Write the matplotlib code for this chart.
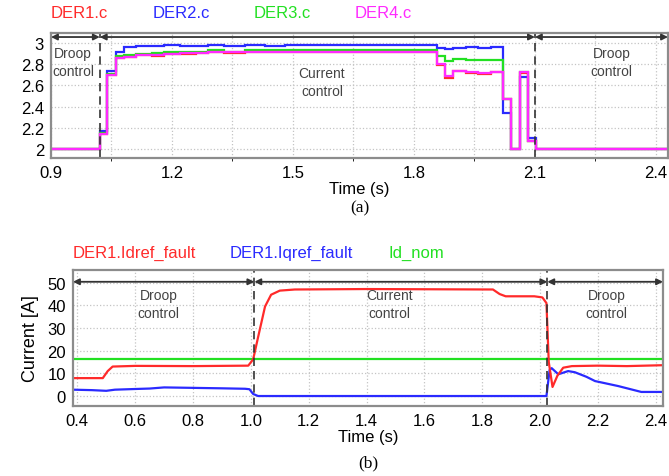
import matplotlib
matplotlib.use("Agg")
import matplotlib.pyplot as plt
from matplotlib.ticker import MultipleLocator, FormatStrFormatter

plt.rcParams['font.family'] = ['Liberation Sans', 'DejaVu Sans']

# (a) step outputs of the four DERs
t_edges_a = [0.90, 1.021, 1.040, 1.061, 1.080, 1.112, 1.15, 1.18, 1.22, 1.26, 1.29,
             1.33, 1.38, 1.43, 1.48, 1.56, 1.66, 1.76, 1.857, 1.877, 1.897, 1.93,
             1.96, 1.99, 2.021, 2.041, 2.063, 2.083, 2.103, 2.43]
der1_c = [2.00, 2.14, 2.70, 2.86, 2.87, 2.89, 2.88, 2.90, 2.90, 2.91, 2.92, 2.91,
          2.92, 2.92, 2.92, 2.92, 2.92, 2.92, 2.79, 2.67, 2.74, 2.72, 2.71, 2.73,
          2.47, 2.00, 2.72, 2.08, 2.00]
der2_c = [2.00, 2.17, 2.74, 2.92, 2.96, 2.97, 2.97, 2.98, 2.97, 2.97, 2.98, 2.97,
          2.98, 2.97, 2.98, 2.98, 2.98, 2.98, 2.95, 2.94, 2.95, 2.96, 2.95, 2.96,
          2.34, 2.00, 2.68, 2.10, 2.00]
der3_c = [2.00, 2.15, 2.71, 2.88, 2.89, 2.90, 2.91, 2.92, 2.92, 2.92, 2.93, 2.92,
          2.93, 2.93, 2.93, 2.93, 2.93, 2.93, 2.88, 2.83, 2.85, 2.84, 2.84, 2.84,
          2.47, 2.00, 2.73, 2.08, 2.00]
der4_c = [2.00, 2.14, 2.70, 2.86, 2.87, 2.89, 2.89, 2.90, 2.91, 2.91, 2.92, 2.92,
          2.92, 2.92, 2.92, 2.92, 2.92, 2.92, 2.80, 2.69, 2.74, 2.73, 2.72, 2.73,
          2.47, 2.00, 2.73, 2.08, 2.00]
switch_a = [1.021, 2.100]

# (b) DER1 current references
t_id = [0.385, 0.488, 0.505, 0.522, 0.60, 0.80, 0.991, 1.008, 1.025, 1.049, 1.07,
        1.10, 1.152, 1.40, 1.837, 1.86, 1.881, 1.98, 2.008, 2.022, 2.03, 2.043,
        2.06, 2.08, 2.11, 2.20, 2.30, 2.425]
id_ref = [7.9, 7.9, 11.0, 13.0, 13.3, 13.2, 13.4, 16.2, 26.0, 39.5, 44.7,
          46.5, 47.0, 47.2, 47.0, 45.0, 44.0, 44.0, 43.5, 41.0, 15.0, 4.0,
          9.0, 12.5, 13.2, 13.4, 13.2, 13.6]
t_iq = [0.385, 0.45, 0.50, 0.53, 0.60, 0.65, 0.70, 0.80, 0.90, 0.98, 0.995, 1.008,
        1.025, 1.50, 2.022, 2.033, 2.04, 2.063, 2.097, 2.12, 2.16, 2.19, 2.27,
        2.35, 2.425]
iq_ref = [2.8, 2.6, 2.3, 2.8, 3.1, 3.3, 3.8, 3.6, 3.4, 3.2, 3.0, 0.9,
          0.0, 0.0, 0.0, 11.5, 12.3, 9.6, 11.0, 10.5, 8.5, 6.6, 4.4,
          1.8, 1.8]
id_nom = 16.2
switch_b = [1.012, 2.025]

red, blue, green, mag = '#ff2a2a', '#2a2aff', '#22e022', '#ff2aff'
grey = '#333333'

fig = plt.figure(figsize=(6.69, 4.77), dpi=100)
ax1 = fig.add_axes([51/669, 1-159/477, 617/669, 125/477])
ax2 = fig.add_axes([73/669, 1-407/477, 590/669, 136/477])


def style(ax):
    for s in ax.spines.values():
        s.set_color('#8c8c8c')
        s.set_linewidth(1.6)
    ax.tick_params(length=0, labelsize=12, pad=5)
    ax.grid(True, which='both', color='#c4c4c4', ls=':', lw=0.9)
    ax.set_axisbelow(True)


def arrows(ax, xs, y):
    for a, b in zip(xs[:-1], xs[1:]):
        ax.annotate('', xy=(b, y), xytext=(a, y),
                    arrowprops=dict(arrowstyle='<|-|>', color=grey, lw=1.3,
                                    shrinkA=0, shrinkB=0, mutation_scale=9))


def label(ax, x, y, s):
    ax.text(x, y, s, ha='center', va='center', fontsize=10,
            color='#444444', linespacing=1.4)


# ---- (a)
style(ax1)
ax1.stairs(der2_c, t_edges_a, baseline=None, color=blue, lw=1.6)
ax1.stairs(der3_c, t_edges_a, baseline=None, color=green, lw=1.6)
ax1.stairs(der1_c, t_edges_a, baseline=None, color=red, lw=1.6)
ax1.stairs(der4_c, t_edges_a, baseline=None, color=mag, lw=1.6)
for t in switch_a:
    ax1.axvline(t, color=grey, ls=(0, (5, 3)), lw=1.2)
ax1.set_xlim(0.9, 2.43)
ax1.set_ylim(1.915, 3.095)
ax1.xaxis.set_minor_locator(MultipleLocator(0.15))
ax1.yaxis.set_major_locator(MultipleLocator(0.2))
ax1.yaxis.set_major_formatter(FormatStrFormatter('%g'))
ax1.set_xticks([0.9, 1.2, 1.5, 1.8, 2.1, 2.4])
ax1.set_xticklabels(['0.9', '1.2', '1.5', '1.8', '2.1', '2.4'])
arrows(ax1, [0.9, switch_a[0], switch_a[1], 2.43], 3.057)
label(ax1, 0.955, 2.82, 'Droop\ncontrol')
label(ax1, 1.572, 2.63, 'Current\ncontrol')
label(ax1, 2.29, 2.82, 'Droop\ncontrol')
ax1.set_xlabel('Time (s)', fontsize=12, labelpad=1)
for name, c, x in [('DER1.c', red, 51), ('DER2.c', blue, 153),
                   ('DER3.c', green, 254), ('DER4.c', mag, 355)]:
    fig.text(x/669, 1-14/477, name, color=c, fontsize=12, va='center')
fig.text(0.5*(51+668)/669, 1-208/477, '(a)', ha='center', va='center',
         fontsize=12.5, family='Liberation Serif')

# ---- (b)
style(ax2)
ax2.axhline(id_nom, color=green, lw=1.6)
ax2.plot(t_iq, iq_ref, color=blue, lw=1.6)
ax2.plot(t_id, id_ref, color=red, lw=1.6)
for t in switch_b:
    ax2.axvline(t, color=grey, ls=(0, (5, 3)), lw=1.2)
ax2.set_xlim(0.385, 2.425)
ax2.set_ylim(-4.4, 55.6)
ax2.set_xticks([0.4, 0.6, 0.8, 1.0, 1.2, 1.4, 1.6, 1.8, 2.0, 2.2, 2.4])
ax2.xaxis.set_major_formatter(FormatStrFormatter('%.1f'))
ax2.yaxis.set_major_locator(MultipleLocator(10))
arrows(ax2, [0.385, switch_b[0], switch_b[1], 2.425], 50.4)
label(ax2, 0.68, 40.5, 'Droop\ncontrol')
label(ax2, 1.48, 40.5, 'Current\ncontrol')
label(ax2, 2.23, 40.5, 'Droop\ncontrol')
ax2.set_xlabel('Time (s)', fontsize=12, labelpad=1)
ax2.set_ylabel('Current [A]', fontsize=13, labelpad=6)
for name, c, x in [('DER1.Idref_fault', red, 73), ('DER1.Iqref_fault', blue, 230),
                   ('Id_nom', green, 388)]:
    fig.text(x/669, 1-253/477, name, color=c, fontsize=12, va='center')
fig.text(0.5*(73+663)/669, 1-463/477, '(b)', ha='center', va='center',
         fontsize=12.5, family='Liberation Serif')

fig.savefig('out.png', dpi=100)
